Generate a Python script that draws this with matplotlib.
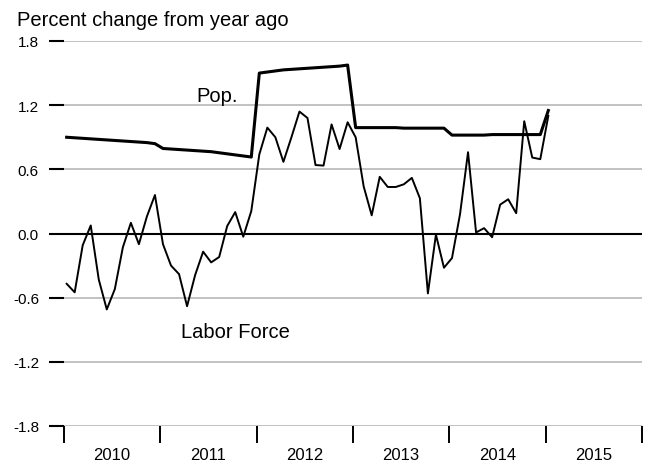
"""
Labor force vs. population, percent change from year ago
"""

import matplotlib
matplotlib.use("Agg")
import matplotlib.pyplot as plt
import numpy as np

plt.rcParams["font.family"] = ["Liberation Sans", "DejaVu Sans"]

# ── Data (monthly, Jan 2010 .. Jan 2015) ─────────────────────────────────────
start_year = 2010
labor_force = [
    -0.47, -0.55, -0.11, 0.075, -0.43, -0.71, -0.52, -0.13, 0.10, -0.10, 0.16, 0.36,
    -0.10, -0.30, -0.38, -0.68, -0.39, -0.17, -0.27, -0.22, 0.07, 0.20, -0.03, 0.21,
    0.74, 0.99, 0.90, 0.67, 0.90, 1.14, 1.08, 0.64, 0.635, 1.02, 0.79, 1.04,
    0.90, 0.44, 0.17, 0.53, 0.435, 0.435, 0.46, 0.52, 0.33, -0.56, -0.01, -0.32,
    -0.23, 0.18, 0.76, 0.01, 0.05, -0.035, 0.27, 0.32, 0.19, 1.05, 0.71, 0.695,
    1.10,
]
population = [
    0.90, 0.895, 0.89, 0.885, 0.88, 0.875, 0.87, 0.865, 0.86, 0.855, 0.85, 0.84,
    0.795, 0.79, 0.785, 0.78, 0.775, 0.77, 0.765, 0.755, 0.745, 0.735, 0.725, 0.715,
    1.50, 1.51, 1.52, 1.53, 1.535, 1.54, 1.545, 1.55, 1.555, 1.56, 1.565, 1.575,
    0.99, 0.99, 0.99, 0.99, 0.99, 0.99, 0.985, 0.985, 0.985, 0.985, 0.985, 0.985,
    0.92, 0.92, 0.92, 0.92, 0.92, 0.925, 0.925, 0.925, 0.925, 0.925, 0.925, 0.925,
    1.15,
]
years = [2010, 2011, 2012, 2013, 2014, 2015]
y_ticks = [-1.8, -1.2, -0.6, 0.0, 0.6, 1.2, 1.8]

# monthly positions in fractional years
t = start_year + (np.arange(len(labor_force)) + 0.33) / 12.0

# ── Canvas ────────────────────────────────────────────────────────────────────
fig = plt.figure(figsize=(6.48, 4.64), dpi=100, facecolor="white")
ax = fig.add_axes([64 / 648, 1 - 427 / 464, (642 - 64) / 648, (427 - 42) / 464])
ax.set_xlim(2010, 2016)
ax.set_ylim(-1.8, 1.8)
for s in ax.spines.values():
    s.set_visible(False)

# gridlines
for yv in y_ticks:
    if yv == 0:
        ax.axhline(yv, color="black", lw=1.5, zorder=2)
    else:
        ax.axhline(yv, color="#bdbdbd", lw=1.3, zorder=1)

# series
ax.plot(t, population, color="black", lw=2.2, zorder=3)
ax.plot(t, labor_force, color="black", lw=1.4, zorder=4)

ax.text(2011.59, 1.29, "Pop.", ha="center", va="center", fontsize=14.5)
ax.text(2011.78, -0.92, "Labor Force", ha="center", va="center", fontsize=14.5)

# y axis
ax.set_yticks(y_ticks)
ax.set_yticklabels([f"{v:.1f}" for v in y_ticks])
ax.tick_params(axis="y", length=11, width=1.5, pad=7, labelsize=11)

# x axis: ticks at year boundaries, labels centred between
ax.set_xticks(list(range(2010, 2017)))
ax.set_xticklabels([])
ax.set_xticks([y + 0.5 for y in years], minor=True)
ax.set_xticklabels([str(y) for y in years], minor=True)
ax.tick_params(axis="x", which="major", length=12, width=1.4)
ax.tick_params(axis="x", which="minor", length=0, pad=15, labelsize=12)

fig.text(17 / 648, 1 - 26 / 464, "Percent change from year ago",
         ha="left", va="baseline", fontsize=14.5)

fig.savefig("out.png", dpi=100, facecolor="white")
